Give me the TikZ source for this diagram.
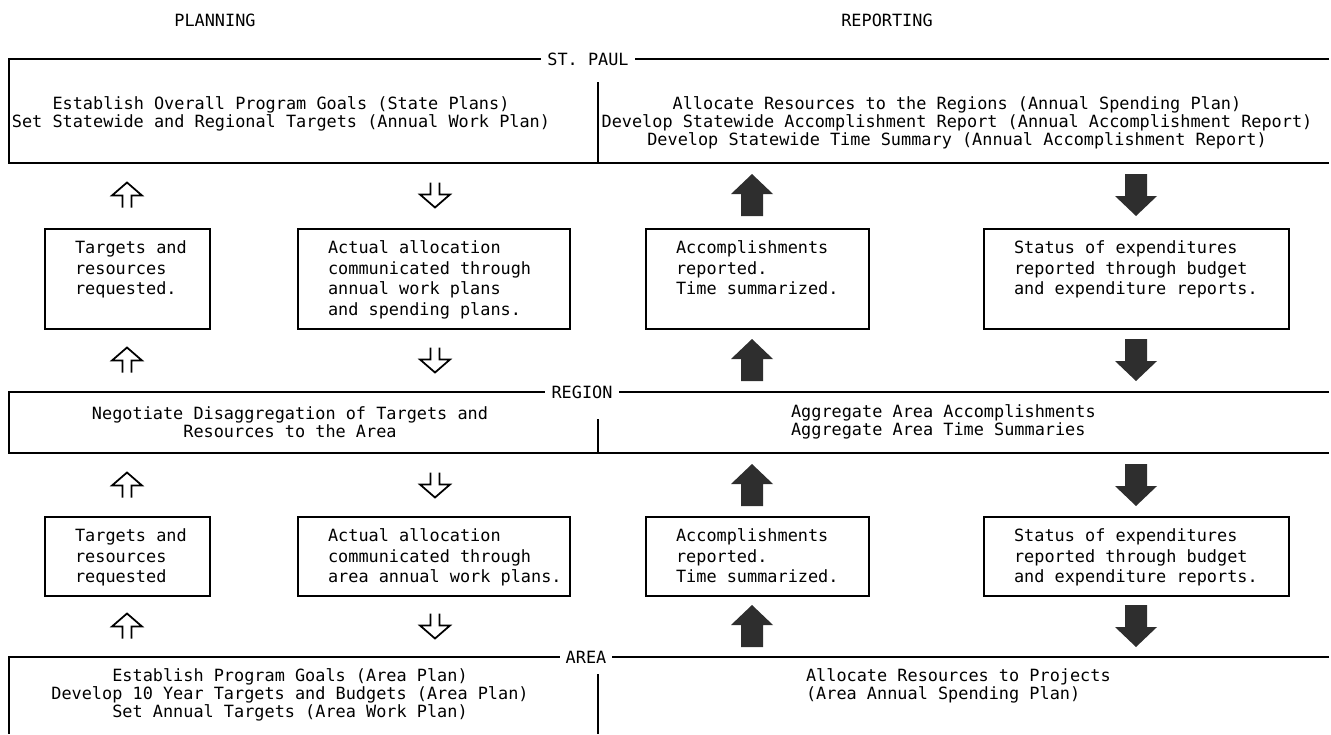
\documentclass[tikz,border=0pt]{standalone}
\usepackage{fontspec}
\setmainfont{DejaVu Sans Mono}

\begin{document}
\begin{tikzpicture}[x=0.02cm, y=-0.02cm, line width=1.2pt,
    every node/.style={inner sep=0pt, font=\fontsize{9.6}{10.2}\selectfont},
    box/.style={draw, line width=1.2pt, anchor=north west},
    boxtext/.style={anchor=north west, align=left, font=\fontsize{9.6}{11.6}\selectfont},
    bandtext/.style={align=center},
    bandlabel/.style={fill=white, inner xsep=3.5pt, inner ysep=1pt},
    openup/.pic={\draw[line width=1pt] (-4.5,12.5) -- (-4.5,0.5) -- (-15,0.5) -- (0,-12.5) -- (15,0.5) -- (4.5,0.5) -- (4.5,12.5);},
    opendown/.pic={\draw[line width=1pt] (-4.5,-12.5) -- (-4.5,-0.5) -- (-15,-0.5) -- (0,12.5) -- (15,-0.5) -- (4.5,-0.5) -- (4.5,-12.5);},
    fillup/.pic={\fill[black!82] (-11,21) -- (-11,-1) -- (-21,-1) -- (0,-21) -- (21,-1) -- (11,-1) -- (11,21) -- cycle;},
    filldown/.pic={\fill[black!82] (-11,-21) -- (-11,1) -- (-21,1) -- (0,21) -- (21,1) -- (11,1) -- (11,-21) -- cycle;}]
    \useasboundingbox (0,0) rectangle (1331,734);
    \def\u{0.02cm} % one pixel of the page

    % Column titles
    \node (planning) at (215,20) {PLANNING};
    \node (reporting) at (887,20) {REPORTING};

    % St. Paul band
    \draw (1329,59) -- (9,59) -- (9,163) -- (1329,163);
    \draw[line width=1.6pt] (598,82) -- (598,163);
    \node[bandlabel] (stpaul) at (588,59) {ST. PAUL};
    \node[bandtext] (stpaul-plan) at (281,114) {Establish Overall Program Goals (State Plans)\\Set Statewide and Regional Targets (Annual Work Plan)};
    \node[bandtext] (stpaul-rep) at (957,123) {Allocate Resources to the Regions (Annual Spending Plan)\\Develop Statewide Accomplishment Report (Annual Accomplishment Report)\\Develop Statewide Time Summary (Annual Accomplishment Report)};

    % Region band
    \draw (1329,392) -- (9,392) -- (9,453) -- (1329,453);
    \draw[line width=1.6pt] (598,419) -- (598,453);
    \node[bandlabel] (region) at (582,392) {REGION};
    \node[bandtext] (region-plan) at (290,422) {Negotiate Disaggregation of Targets and\\Resources to the Area};
    \node[anchor=west, align=left] (region-rep) at (790,422) {Aggregate Area Accomplishments\\Aggregate Area Time Summaries};

    % Area band
    \draw (1329,657) -- (9,657) -- (9,734);
    \draw[line width=1.6pt] (598,674) -- (598,734);
    \node[bandlabel] (area) at (586,657) {AREA};
    \node[bandtext] (area-plan) at (290,695) {Establish Program Goals (Area Plan)\\Develop 10 Year Targets and Budgets (Area Plan)\\Set Annual Targets (Area Work Plan)};
    \node[anchor=west, align=left] (area-rep) at (805,686) {Allocate Resources to Projects\\(Area Annual Spending Plan)};

    % Boxes between the bands
    \foreach \r/\top/\h in {1/228/100, 2/516/79} {
        \foreach \c/\left/\w in {1/44/165, 2/297/272, 3/645/223, 4/983/305} {
            \node[box, minimum width=\w*\u, minimum height=\h*\u] (box-\r-\c) at (\left,\top) {};
        }
    }
    \foreach \r/\c/\txt in {
        1/1/{Targets and\\resources\\requested.},
        1/2/{Actual allocation\\communicated through\\annual work plans\\and spending plans.},
        1/3/{Accomplishments\\reported.\\Time summarized.},
        1/4/{Status of expenditures\\reported through budget\\and expenditure reports.},
        2/1/{Targets and\\resources\\requested},
        2/2/{Actual allocation\\communicated through\\area annual work plans.},
        2/3/{Accomplishments\\reported.\\Time summarized.},
        2/4/{Status of expenditures\\reported through budget\\and expenditure reports.}} {
        \node[boxtext] (txt-\r-\c) at ([shift={(30,12)}]box-\r-\c.north west) {\txt};
    }

    % Block arrows
    \foreach \y in {195,360,485,626} {
        \pic at (127,\y) {openup};
        \pic at (435,\y) {opendown};
        \pic at (752,\y) {fillup};
        \pic at (1136,\y) {filldown};
    }
\end{tikzpicture}
\end{document}
